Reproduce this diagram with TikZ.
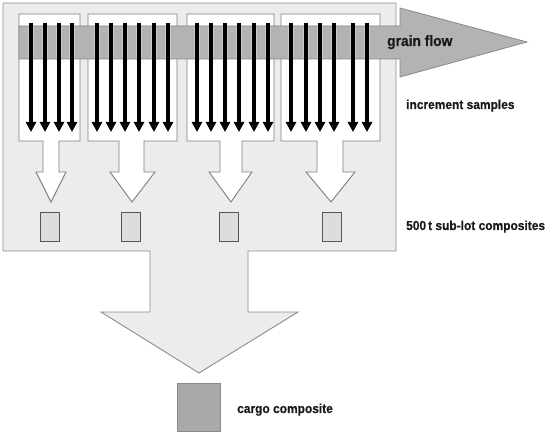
\documentclass[tikz,border=0pt]{standalone}
\usepackage{fontspec}
\setmainfont{Liberation Sans}
\newfontfamily\labfont[FakeBold=0.6]{Liberation Sans Bold}
\usetikzlibrary{arrows.meta}
\definecolor{panelfill}{HTML}{ECECEE}
\definecolor{panelline}{HTML}{8C8C8C}
\definecolor{boxline}{HTML}{7F7F7F}
\definecolor{bandfill}{HTML}{B3B3B5}
\definecolor{bandline}{HTML}{8A8A8A}
\definecolor{compfill}{HTML}{DDDDDF}
\definecolor{compline}{HTML}{555555}
\definecolor{cargofill}{HTML}{A9A9AB}
\definecolor{txt}{HTML}{1A1A1A}
\definecolor{halo}{HTML}{CACACC}
\tikzset{
  panel/.style={fill=panelfill, draw=panelline, line width=0.9pt, line join=miter},
  samplebox/.style={fill=white, draw=boxline, line width=0.9pt, line join=miter},
  band/.style={fill=bandfill, draw=bandline, line width=0.8pt, line join=miter},
  incr/.style={draw=black, line width=3.3pt, -{Triangle[width=10pt,length=10pt]}},
  incrhalo/.style={draw=halo, line width=6pt},
  comp/.style={rectangle, fill=compfill, draw=compline, line width=0.8pt, minimum width=19pt, minimum height=29pt, inner sep=0pt},
  cargo/.style={rectangle, fill=cargofill, draw=bandline, line width=0.8pt, minimum width=43pt, minimum height=48pt, inner sep=0pt},
  lab/.style={anchor=base west, inner sep=0pt, text=txt, font=\labfont\fontsize{13}{15}\selectfont},
}
\newcommand{\sq}[1]{\scalebox{0.92}[1]{#1}}
\begin{document}
\begin{tikzpicture}[x=1pt, y=-1pt]
\useasboundingbox (0,0) rectangle (550,433);
% panel with big arrow
\draw[panel] (3,3) -- (396,3) -- (396,251) -- (248,251) -- (248,312) -- (298,312)
  -- (199,373) -- (101,312) -- (150,312) -- (150,251) -- (3,251) -- cycle;
% sample boxes with white arrows
\draw[samplebox] (19,14) -- (80,14) -- (80,141) -- (59,141) -- (59,172) -- (66,172)
  -- (51,202) -- (36,172) -- (43,172) -- (43,141) -- (19,141) -- cycle;
\draw[samplebox] (88,14) -- (177,14) -- (177,141) -- (144,141) -- (144,172) -- (155,172)
  -- (132,202) -- (110,172) -- (119,172) -- (119,141) -- (88,141) -- cycle;
\draw[samplebox] (187,14) -- (274,14) -- (274,141) -- (242,141) -- (242,172) -- (252,172)
  -- (231,202) -- (209,172) -- (220,172) -- (220,141) -- (187,141) -- cycle;
\draw[samplebox] (281,14) -- (380,14) -- (380,141) -- (343,141) -- (343,172) -- (355,172)
  -- (331,202) -- (306,172) -- (317,172) -- (317,141) -- (281,141) -- cycle;
% grain flow band
\draw[band] (19,26) -- (400,26) -- (400,8) -- (527,42) -- (400,77) -- (400,59) -- (19,59) -- cycle;
% increment sample arrows
\foreach \x in {31,45,59,72, 97,111,125,139,154,168, 197,211,225,239,254,268, 291,306,320,334,353,367}{
  \coordinate (s\x) at (\x,23);
  \coordinate (e\x) at (\x,132);
  \draw[incrhalo] (\x,27) -- (\x,58);
}
\foreach \x in {31,45,59,72, 97,111,125,139,154,168, 197,211,225,239,254,268, 291,306,320,334,353,367}{
  \draw[incr] (s\x) -- (e\x);
}
% sub-lot composites
\node[comp] (c1) at (49.5,226.5) {};
\node[comp] (c2) at (131,227) {};
\node[comp] (c3) at (229,226.5) {};
\node[comp] (c4) at (332,227) {};
% cargo composite
\node[cargo] (cargo) at (198.5,407) {};
% labels
\node[lab] (gf) at (387,46) {\fontsize{15}{17}\selectfont\sq{grain flow}};
\node[lab] (inc) at (406,109) {\sq{increment samples}};
\node[lab] (sub) at (406,230) {\sq{500\,t sub-lot composites}};
\node[lab] (cc) at (237,413) {\sq{cargo composite}};
\end{tikzpicture}
\end{document}
